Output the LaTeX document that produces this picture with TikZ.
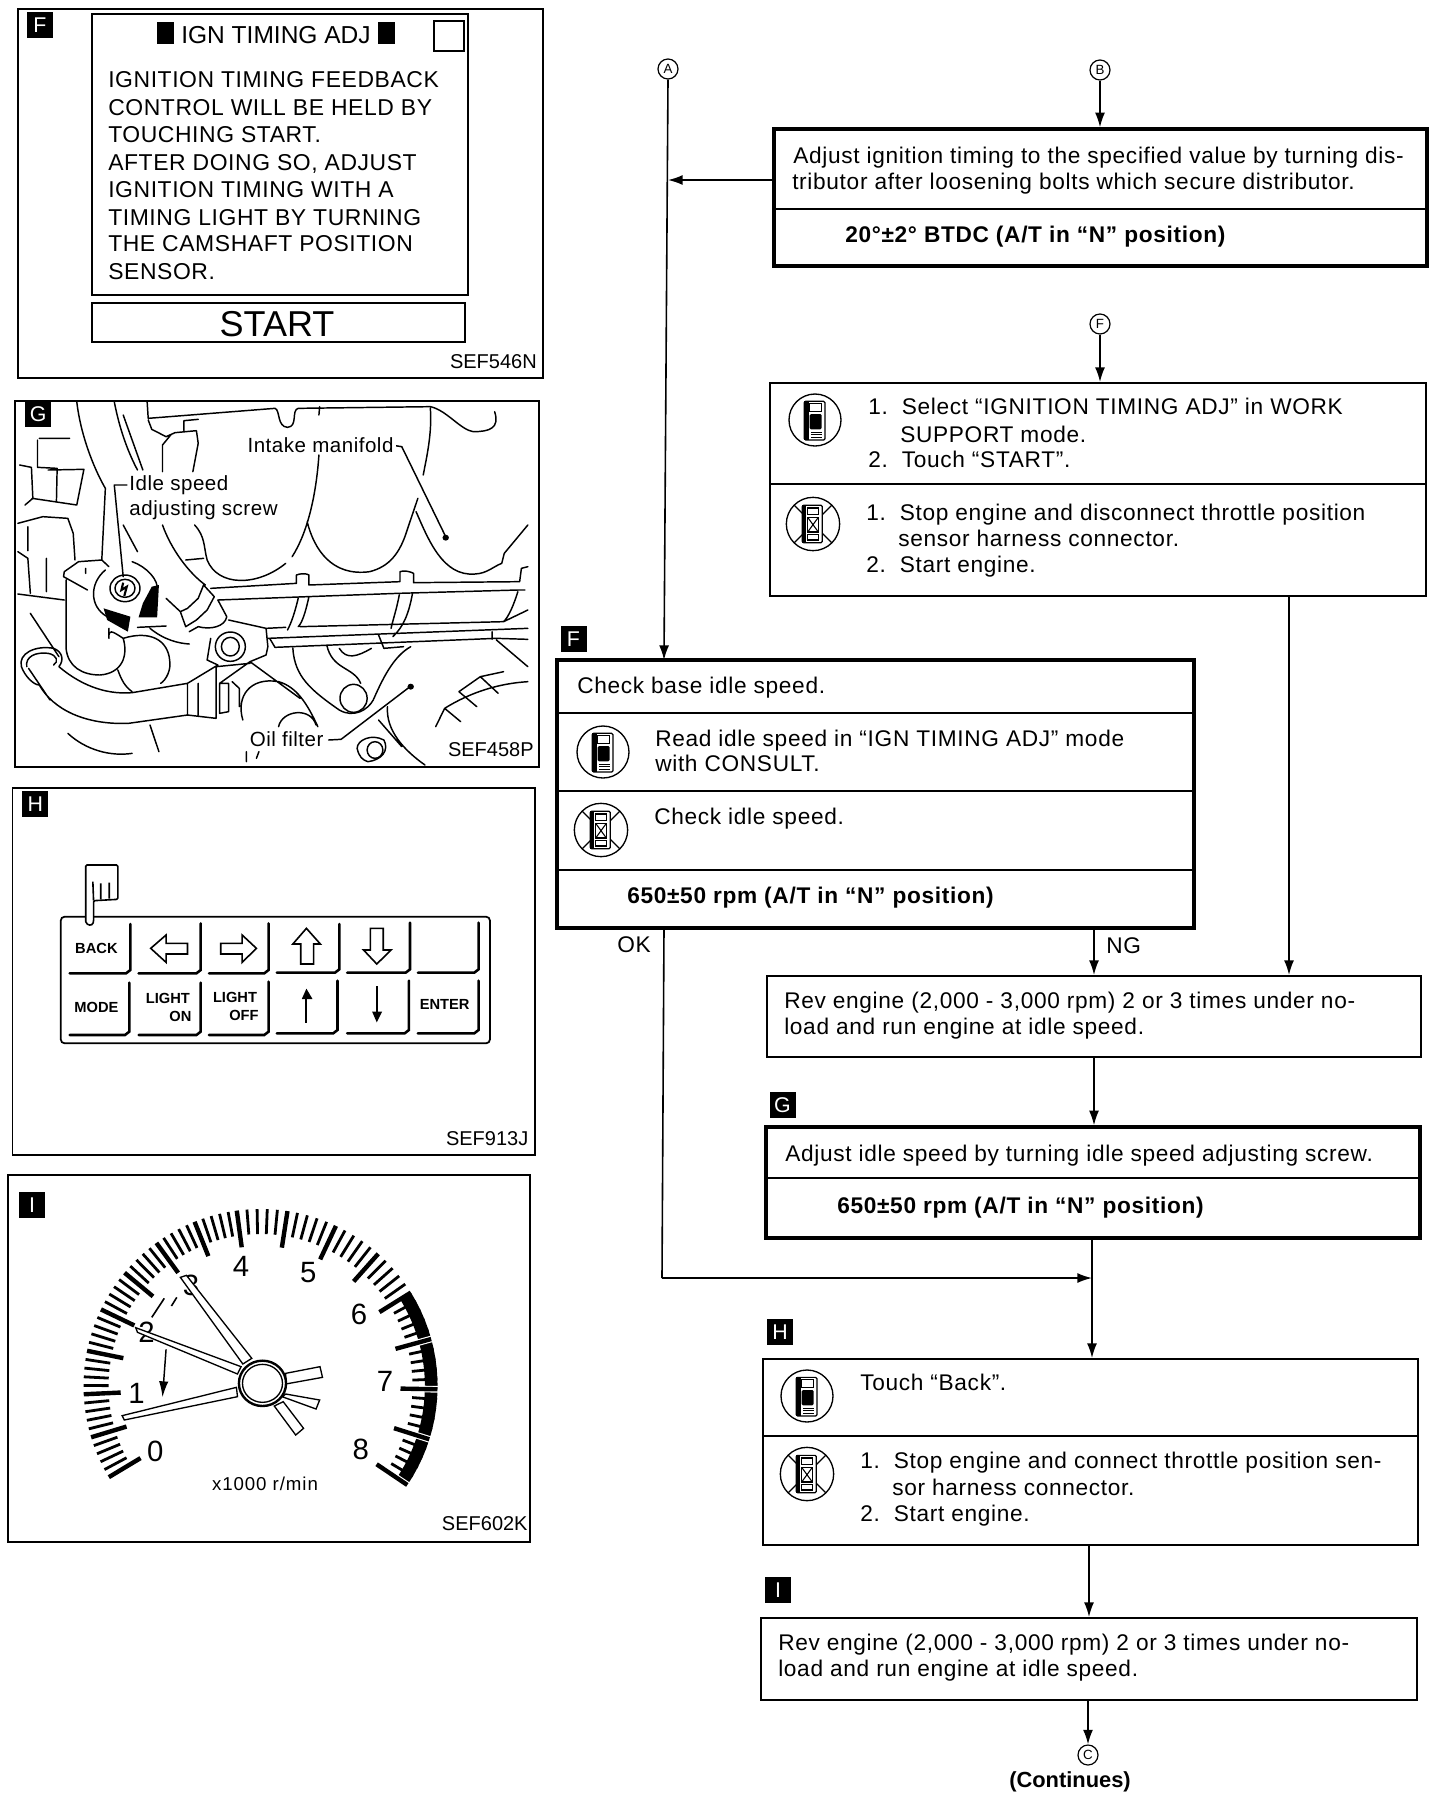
\documentclass[tikz,border=0pt]{standalone}
\usepackage{fontspec}
\setmainfont{Liberation Sans}
\usetikzlibrary{arrows.meta,fit,calc}
\newcommand{\tsz}{\fontsize{17}{20}\selectfont\addfontfeature{LetterSpace=3}}
\newcommand{\psz}{\fontsize{15}{18}\selectfont}
\tikzset{
 flow/.style={draw,line width=1.5pt,inner sep=0pt},
 flowthick/.style={draw,line width=2.6pt,inner sep=0pt},
 panel/.style={draw,line width=1.3pt,inner sep=0pt},
 arr/.style={line width=1.2pt,-{Latex[length=11pt,width=7.5pt]}},
 conn/.style={line width=1.2pt},
 divider/.style={line width=1.3pt},
 txt/.style={anchor=west,inner sep=0pt,font=\tsz,text height=15pt,text depth=3pt},
 btxt/.style={anchor=west,inner sep=0pt,font=\bfseries\tsz,text height=15pt,text depth=3pt},
 ptxt/.style={anchor=west,inner sep=0pt,font=\fontsize{17.2}{18}\selectfont\addfontfeature{LetterSpace=2.5},text height=15pt,text depth=3pt},
 ref/.style={anchor=east,inner sep=0pt,font=\psz},
 blab/.style={fill=black,text=white,inner sep=0pt,minimum width=19.5pt,minimum height=19.5pt,font=\fontsize{16}{18}\selectfont},
 circ/.style={circle,draw,line width=.9pt,inner sep=0pt,minimum size=15pt,font=\fontsize{10}{11}\selectfont},
 ink/.style={line width=1.1pt,line cap=round,line join=round},
 keyt/.style={inner sep=0pt,font=\fontsize{11}{12}\selectfont\bfseries},
 callout/.style={inner sep=0pt,font=\fontsize{15.4}{17}\selectfont\addfontfeature{LetterSpace=2.5}},
 consult/.pic={
   \draw[line width=1pt] (0,0) circle (19.5pt);
   \draw[line width=.9pt,fill=white,rounded corners=1pt] (-8pt,14pt) rectangle (7.5pt,-15pt);
   \fill (-8pt,14pt) rectangle (-4.5pt,-15pt);
   \draw[line width=.9pt] (-4pt,12.5pt) rectangle (5pt,6.5pt);
   \fill[rounded corners=1pt] (-4pt,4.5pt) rectangle (5pt,-7pt);
   \draw[line width=.6pt] (-3pt,-9pt) -- (5pt,-9pt) (-3pt,-11pt) -- (5pt,-11pt) (-3pt,-13pt) -- (5pt,-13pt);
 },
 noconsult/.pic={
   \draw[line width=1pt] (0,0) circle (20pt);
   \draw[line width=.9pt] (-14pt,14pt) -- (14pt,-14pt) (-14pt,-14pt) -- (14pt,14pt);
   \draw[line width=.9pt,fill=white,rounded corners=1pt] (-8pt,14pt) rectangle (7pt,-14pt);
   \fill (-8pt,14pt) rectangle (-5.5pt,-14pt);
   \draw[line width=.8pt] (-4pt,12pt) rectangle (4pt,7pt);
   \draw[line width=.8pt] (-4pt,5pt) rectangle (4pt,-6pt);
   \draw[line width=.8pt] (-4pt,5pt) -- (4pt,-6pt) (-4pt,-6pt) -- (4pt,5pt);
   \draw[line width=.8pt] (-4pt,-8pt) rectangle (4pt,-12pt);
 },
}
\begin{document}
\begin{tikzpicture}[x=.75pt,y=-.75pt]
\useasboundingbox (0,0) rectangle (1440,1800);
\fill[white] (0,0) rectangle (1440,1800);

%%% ---------- Panel F (top left)
\node[panel,fit={(18,9)(543,378)}] (pF) {};
\node[blab] (lF) at (40,25) {F};
\node[panel,fit={(92,14)(468,295)}] (scr) {};
\node[inner sep=0pt,font=\fontsize{18.4}{20}\selectfont] (ttl) at (276,33) {\rule{13pt}{16pt}\ IGN TIMING ADJ\ \rule{13pt}{16pt}};
\node[draw,line width=1.3pt,minimum size=23pt,inner sep=0pt] (sq) at (449,36) {};
\node[ptxt] (f1) at (108,79) {IGNITION TIMING FEEDBACK};
\node[ptxt] (f2) at (108,107) {CONTROL WILL BE HELD BY};
\node[ptxt] (f3) at (108,134) {TOUCHING START.};
\node[ptxt] (f4) at (108,162) {AFTER DOING SO, ADJUST};
\node[ptxt] (f5) at (108,189) {IGNITION TIMING WITH A};
\node[ptxt] (f6) at (108,217) {TIMING LIGHT BY TURNING};
\node[ptxt] (f7) at (108,243) {THE CAMSHAFT POSITION};
\node[ptxt] (f8) at (108,271) {SENSOR.};
\node[panel,fit={(92,303)(465,342)}] (stb) {};
\node[inner sep=0pt,font=\fontsize{27}{30}\selectfont] (stt) at (277,324) {START};
\node[ref] (r1) at (537,362) {SEF546N};

%%% ---------- Panel G (engine drawing) - coordinates of the 2.8/3 crop
\begin{scope}[shift={(0pt,-292.5pt)},x=.26786pt,y=-.25pt]
\node[panel,fit={(42,32)(1510,1130)}] (pG) {};
\node[blab] (lG) at (107,72) {G};
\draw[ink]
 (215,35) .. controls (225,130) and (260,230) .. (295,295) -- (285,510)
 (320,35) .. controls (335,120) and (360,190) .. (385,240)
 (345,75) -- (400,240) (412,35) -- (415,85)
 (415,85) -- (770,55) .. controls (785,60) and (775,110) .. (805,112) .. controls (835,110) and (815,60) .. (835,55) -- (1205,50)
 (1205,50) .. controls (1250,60) and (1290,120) .. (1325,125) .. controls (1370,125) and (1400,115) .. (1385,65)
 (895,50) -- (893,75) (893,195) .. controls (885,320) and (860,430) .. (818,500)
 (1205,55) .. controls (1210,130) and (1195,200) .. (1185,255)
 (415,90) -- (425,118) -- (465,140) -- (490,128) -- (550,122) -- (555,160) -- (540,245)
 (515,122) -- (515,92) -- (555,88)
 (478,135) -- (455,165) -- (455,245)
 (110,145) -- (195,145) (105,150) -- (105,232) -- (160,235) -- (158,335)
 (55,225) -- (88,232) -- (92,325) -- (70,345) (135,240) -- (235,238) -- (215,345) -- (90,325)
 (50,400) -- (120,380) -- (190,385) -- (205,430) -- (210,510)
 (78,410) -- (78,482) (50,485) -- (78,505) -- (85,610) (130,505) -- (130,605)
 (50,612) -- (180,630)
 (345,405) -- (385,485)
 (455,405) .. controls (480,480) and (530,550) .. (575,585)
 (520,510) -- (570,505) (545,405) .. controls (575,440) and (570,470) .. (580,510) .. controls (610,590) and (720,590) .. (800,520)
 (860,395) .. controls (880,480) and (930,560) .. (1035,545) .. controls (1090,530) and (1120,490) .. (1140,420) -- (1170,325)
 (1165,365) .. controls (1200,450) and (1240,560) .. (1330,552) .. controls (1365,550) and (1380,530) .. (1405,520)
 (1405,520) -- (1412,490) -- (1478,405)
 (590,595) -- (830,580) -- (830,555) .. controls (840,550) and (860,550) .. (865,555) -- (865,585) -- (1120,575) -- (1120,545) .. controls (1130,540) and (1150,545) .. (1158,550) -- (1158,578) -- (1455,575) -- (1460,535) -- (1478,530)
 (610,630) -- (860,620) -- (1115,610) -- (1450,600) -- (1470,600)
 (835,625) .. controls (825,670) and (815,700) .. (805,720)
 (865,620) .. controls (855,670) and (845,700) .. (835,710)
 (1118,615) .. controls (1110,660) and (1100,690) .. (1095,715)
 (1155,610) .. controls (1145,670) and (1130,710) .. (1100,740)
 (1450,605) .. controls (1440,640) and (1425,680) .. (1410,695) -- (840,710)
 (745,715) -- (800,712) (640,690) -- (745,715) (745,715) -- (750,770)
 (750,745) -- (1478,715) (770,772) -- (1390,745) -- (1478,748)
 (755,745) -- (770,772) (1060,735) -- (1075,775) -- (1130,770)
 (1390,750) -- (1478,830) (1378,725) -- (1378,748) (1410,695) -- (1478,660)
 (570,585) -- (555,625) -- (525,655) -- (505,665) -- (520,710) -- (550,690) -- (580,660) -- (600,620) -- (570,585)
 (465,625) -- (505,665) (530,725) -- (555,710) .. controls (590,720) and (630,710) .. (635,680) -- (610,630)
 (285,510) -- (220,515) -- (180,545) -- (178,560) -- (245,600)
 (240,535) -- (240,550) (285,510) -- (305,530)
 (185,570) -- (185,775) .. controls (190,830) and (230,855) .. (280,855) .. controls (340,850) and (360,800) .. (345,745)
 (345,745) .. controls (310,720) and (305,720) .. (305,740) (305,715) -- (305,745)
 (345,745) .. controls (420,720) and (470,750) .. (475,810) .. controls (480,840) and (465,870) .. (450,880)
 (330,840) .. controls (340,870) and (350,890) .. (370,905)
 (385,712) -- (465,708) (420,715) .. controls (460,750) and (500,760) .. (530,762)
 (60,830) .. controls (50,790) and (100,765) .. (150,775) .. controls (175,785) and (180,810) .. (165,830) .. controls (220,880) and (290,915) .. (370,908) -- (525,880)
 (75,830) .. controls (70,800) and (100,785) .. (135,790) .. controls (160,795) and (165,815) .. (150,825)
 (85,670) -- (165,800)
 (60,830) .. controls (70,860) and (95,885) .. (110,885) .. controls (150,960) and (240,1005) .. (360,1000) -- (525,975)
 (80,835) -- (140,930)
 (525,880) -- (525,975) -- (605,985) -- (605,830) -- (700,820)
 (525,880) -- (610,825) -- (580,810) -- (590,745)
 (555,880) -- (555,975) (615,880) -- (615,970) -- (640,965) -- (640,880) -- (615,880)
 (615,880) -- (700,815) -- (745,795) -- (750,770) (650,875) -- (670,895) -- (670,950)
 (700,815) -- (840,925)
 (680,990) .. controls (660,920) and (700,860) .. (780,875) .. controls (830,890) and (860,940) .. (890,1010)
 (780,1010) .. controls (790,960) and (870,950) .. (885,1005)
 (820,775) .. controls (825,860) and (870,900) .. (950,960) .. controls (990,985) and (1030,960) .. (1045,930)
 (915,765) .. controls (930,840) and (990,830) .. (1010,880)
 (950,775) .. controls (970,810) and (1000,800) .. (1040,775)
 (1045,930) .. controls (1070,870) and (1100,800) .. (1150,770)
 (1085,950) .. controls (1080,1020) and (1130,1080) .. (1190,1125)
 (1060,990) -- (1125,1070)
 (190,1030) .. controls (240,1080) and (310,1100) .. (370,1090)
 (420,1005) -- (445,1085)
 (690,1085) -- (690,1115) (725,1085) -- (718,1105)
 (1220,1010) -- (1245,955) -- (1290,995) (1245,955) .. controls (1320,905) and (1400,880) .. (1478,875)
 (1285,905) -- (1335,950) (1345,860) -- (1395,910) (1285,905) -- (1345,860) -- (1410,845)
 (1000,1075) .. controls (1000,1050) and (1040,1030) .. (1075,1050) .. controls (1090,1080) and (1070,1110) .. (1030,1115)
 (1000,1075) .. controls (1005,1100) and (1015,1110) .. (1030,1115);
\draw[ink] (990,925) ellipse (38 and 42);
\draw[ink] (1050,1080) ellipse (22 and 25);
\draw[ink] (645,770) ellipse (42 and 44) (645,770) ellipse (25 and 28);
\draw[ink,fill=white] (350,595) ellipse (42 and 40);
\draw[ink] (350,595) ellipse (28 and 27);
\draw[line width=1.6pt] (345,578) -- (340,600) -- (355,590) -- (348,618);
\draw[ink] (295,540) .. controls (250,580) and (250,650) .. (300,680);
\draw[ink] (370,515) .. controls (410,530) and (445,570) .. (440,600);
\fill (400,640) -- (425,590) -- (445,585) -- (440,682) -- (388,682) -- cycle;
\fill (290,655) -- (365,680) -- (358,725) -- (300,690) -- cycle;
% callouts
\draw[ink] (355,285) -- (320,285) -- (345,560);
\draw[ink] (1095,165) -- (1125,170) -- (1248,440);
\fill (1248,443) circle (9);
\draw[ink] (920,1050) -- (955,1048) -- (1148,890);
\fill (1150,890) circle (9);
\node[callout,anchor=west,fill=white,inner xsep=2pt,inner ysep=0pt] (c1) at (685,165) {Intake manifold};
\node[callout,anchor=west,fill=white,inner xsep=1pt,inner ysep=0pt] (c2) at (358,285) {Idle speed};
\node[callout,anchor=west,fill=white,inner xsep=1pt,inner ysep=0pt] (c3) at (358,362) {adjusting screw};
\node[callout,anchor=west,fill=white,inner xsep=1pt,inner ysep=0pt] (c4) at (695,1048) {Oil filter};
\node[ref] (r2) at (1495,1080) {SEF458P};
\end{scope}

%%% ---------- Panel H (keypad)
\begin{scope}[shift={(0pt,-585pt)},x=.26786pt,y=-.25pt]
\node[panel,fit={(35,25)(1498,1125)}] (pH) {};
\node[blab] (lH) at (99,72) {H};
\draw[line width=1.3pt,rounded corners=3pt] (170,410) rectangle (1372,790);
\foreach \l/\r/\t/\b in {195/365/432/580,388/562/430/580,585/752/430/580,775/950/432/578,972/1148/428/578,1170/1340/428/578,
  195/362/608/765,388/562/608/765,585/752/605/765,775/945/602/760,972/1145/602/760,1170/1340/602/760}{
  \draw[line width=1.9pt,line cap=round] (\l,\b) -- ({\r-12},\b) -- (\r,{\b-10}) -- (\r,\t);
}
\node[keyt] (k1) at (270,505) {BACK};
\node[keyt] (k2) at (270,683) {MODE};
\node[keyt] (k3) at (470,655) {LIGHT};
\node[keyt] (k4) at (505,708) {ON};
\node[keyt] (k5) at (658,653) {LIGHT};
\node[keyt] (k6) at (683,705) {OFF};
\node[keyt] (k7) at (1245,672) {ENTER};
\draw[line width=1.2pt,line join=miter] (422,505) -- (465,465) -- (465,490) -- (525,490) -- (525,522) -- (465,522) -- (465,547) -- cycle;
\draw[line width=1.2pt] (718,505) -- (678,465) -- (678,490) -- (618,490) -- (618,522) -- (678,522) -- (678,547) -- cycle;
\draw[line width=1.2pt] (858,445) -- (820,492) -- (842,492) -- (842,552) -- (878,552) -- (878,492) -- (897,492) -- cycle;
\draw[line width=1.2pt] (1055,552) -- (1018,510) -- (1037,510) -- (1037,445) -- (1073,445) -- (1073,510) -- (1095,510) -- cycle;
\draw[line width=1.6pt] (858,650) -- (858,728) (1055,618) -- (1055,700);
\fill (858,626) -- (845,657) -- (875,657) -- cycle;
\fill (1055,727) -- (1042,695) -- (1070,695) -- cycle;
\draw[line width=1.2pt,fill=white,rounded corners=1pt] (240,425) -- (240,255) -- (330,255) -- (330,358) -- (262,362) -- (262,425) .. controls (258,438) and (244,438) .. (240,425);
\draw[line width=1.2pt] (260,305) -- (262,362) (282,310) -- (282,358) (306,308) -- (306,356);
\node[ref] (r3) at (1480,1075) {SEF913J};
\end{scope}

%%% ---------- Panel I (tachometer)
\node[panel,fit={(8,1175)(530,1542)}] (pI) {};
\node[blab] (lI) at (32,1205) {\rule{0pt}{1pt}I};
\begin{scope}[shift={(195.4pt,-1039.5pt)}]
\draw[line width=9.5pt] (31.9:128pt) arc[start angle=31.9,end angle=-34,radius=128pt];
\foreach \i in {0,...,80}{
 \pgfmathsetmacro{\tt}{\i/5}
 \pgfmathsetmacro{\a}{\tt<=8 ? 211-14.16*\tt : 97.7-16.46*(\tt-8)}
 \pgfmathtruncatemacro{\ma}{mod(\i,5)==0 ? 1 : 0}
 \ifnum\ma=1
   \ifnum\i>60
     \draw[white,line width=5pt] (\a:108pt) -- (\a:136pt);
   \fi
   \draw[line width=3.3pt] (\a:105pt) -- (\a:132.75pt);
 \else
   \draw[line width=2.1pt] (\a:114pt) -- (\a:132.75pt);
 \fi
}
\end{scope}
\begin{scope}[shift={(0pt,-877.5pt)},x=.26786pt,y=-.25pt]
\node[inner sep=0pt,font=\fontsize{22}{24}\selectfont] (n0) at (435,843) {0};
\node[inner sep=0pt,font=\fontsize{22}{24}\selectfont] (n1) at (382,670) {1};
\node[inner sep=0pt,font=\fontsize{22}{24}\selectfont] (n2) at (410,487) {2};
\node[inner sep=0pt,font=\fontsize{22}{24}\selectfont] (n3) at (535,345) {3};
\node[inner sep=0pt,font=\fontsize{22}{24}\selectfont] (n4) at (675,288) {4};
\node[inner sep=0pt,font=\fontsize{22}{24}\selectfont] (n5) at (863,308) {5};
\node[inner sep=0pt,font=\fontsize{22}{24}\selectfont] (n6) at (1005,433) {6};
\node[inner sep=0pt,font=\fontsize{22}{24}\selectfont] (n7) at (1078,633) {7};
\node[inner sep=0pt,font=\fontsize{22}{24}\selectfont] (n8) at (1010,838) {8};
\draw[line width=1pt,fill=white] (342,737) -- (348,750) -- (665,680) -- (662,652) -- cycle;
\draw[line width=1pt,fill=white] (380,473) -- (385,487) -- (665,612) -- (675,590) -- cycle;
\draw[line width=1pt,fill=white] (505,322) -- (522,316) -- (705,565) -- (680,582) -- cycle;
\draw[line width=1pt,fill=white] (800,610) -- (896,590) -- (903,622) -- (800,642) -- cycle;
\draw[line width=1pt,fill=white] (800,672) -- (895,690) -- (885,717) -- (790,680) -- cycle;
\draw[line width=1pt,fill=white] (793,695) -- (850,775) -- (828,795) -- (768,708) -- cycle;
\draw[line width=1.2pt] (495,382) -- (480,408) (460,385) -- (425,442);
\draw[line width=1.1pt,-{Latex[length=12pt,width=7pt]}] (465,538) -- (455,682);
\draw[line width=1.8pt,fill=white] (735,640) ellipse (66 and 68);
\draw[line width=1pt] (735,640) ellipse (56 and 57);
\node[inner sep=0pt,font=\fontsize{14}{16}\selectfont\addfontfeature{LetterSpace=5}] (xt) at (742,940) {x1000 r/min};
\node[ref] (r4) at (1478,1062) {SEF602K};
\end{scope}

%%% ---------- Flow: box B
\node[circ] (ca) at (668,69) {A};
\node[circ] (cb) at (1100,70) {B};
\node[flowthick,fit={(774,129)(1427,266)}] (bB) {};
\node[txt] (b1) at (793,155) {Adjust ignition timing to the specified value by turning dis-};
\node[txt] (b2) at (792,181) {tributor after loosening bolts which secure distributor.};
\draw[divider] (bB.west |- 0,209) -- (bB.east |- 0,209);
\node[btxt] (b3) at (845,234) {20°±2° BTDC (A/T in “N” position)};
\coordinate (jA) at (668,180);

%%% Box F-circle
\node[circ] (cf) at (1100,324) {F};
\node[flow,fit={(770,383)(1426,596)}] (bC) {};
\draw[divider] (bC.west |- 0,484) -- (bC.east |- 0,484);
\pic at (815,420) {consult};
\pic at (813,524) {noconsult};
\node[txt] (c1a) at (868,406) {1.\ \ Select “IGNITION TIMING ADJ” in WORK};
\node[txt] (c1b) at (900,434) {SUPPORT mode.};
\node[txt] (c1c) at (868,459) {2.\ \ Touch “START”.};
\node[txt] (c2a) at (866,512) {1.\ \ Stop engine and disconnect throttle position};
\node[txt] (c2b) at (898,538) {sensor harness connector.};
\node[txt] (c2c) at (866,564) {2.\ \ Start engine.};

%%% Box F
\node[blab] (lF2) at (573.5,639) {F};
\node[flowthick,fit={(557,660)(1194,928)}] (bF) {};
\draw[divider] (bF.west |- 0,713) -- (bF.east |- 0,713);
\draw[divider] (bF.west |- 0,791) -- (bF.east |- 0,791);
\draw[divider] (bF.west |- 0,870) -- (bF.east |- 0,870);
\node[txt] (d1) at (577,685) {Check base idle speed.};
\pic at (603,752) {consult};
\pic at (601,830) {noconsult};
\node[txt] (d2) at (655,738) {Read idle speed in “IGN TIMING ADJ” mode};
\node[txt] (d3) at (655,763) {with CONSULT.};
\node[txt] (d4) at (654,816) {Check idle speed.};
\node[btxt] (d5) at (627,895) {650±50 rpm (A/T in “N” position)};
\node[txt] (ok) at (617,944) {OK};
\node[txt] (ng) at (1106,945) {NG};

%%% Rev box 1
\node[flow,fit={(767,976)(1421,1057)}] (bR) {};
\node[txt] (e1) at (784,1000) {Rev engine (2,000 - 3,000 rpm) 2 or 3 times under no-};
\node[txt] (e2) at (784,1026) {load and run engine at idle speed.};

%%% Box G
\node[blab] (lG2) at (782.5,1105) {G};
\node[flowthick,fit={(766,1127)(1420,1238)}] (bG) {};
\draw[divider] (bG.west |- 0,1178) -- (bG.east |- 0,1178);
\node[txt] (g1) at (785,1153) {Adjust idle speed by turning idle speed adjusting screw.};
\node[btxt] (g2) at (837,1205) {650±50 rpm (A/T in “N” position)};

%%% Box H
\node[blab] (lH2) at (780,1332) {H};
\node[flow,fit={(763,1359)(1418,1545)}] (bH) {};
\draw[divider] (bH.west |- 0,1436) -- (bH.east |- 0,1436);
\pic at (807,1396) {consult};
\pic at (807,1474) {noconsult};
\node[txt] (h1) at (860,1382) {Touch “Back”.};
\node[txt] (h2) at (860,1460) {1.\ \ Stop engine and connect throttle position sen-};
\node[txt] (h3) at (892,1487) {sor harness connector.};
\node[txt] (h4) at (860,1513) {2.\ \ Start engine.};

%%% Box I
\node[blab] (lI2) at (778,1590) {\rule{0pt}{1pt}I};
\node[flow,fit={(761,1618)(1417,1700)}] (bI) {};
\node[txt] (i1) at (778,1642) {Rev engine (2,000 - 3,000 rpm) 2 or 3 times under no-};
\node[txt] (i2) at (778,1668) {load and run engine at idle speed.};

\node[circ] (cc) at (1088,1755) {C};
\node[inner sep=0pt,font=\fontsize{16.4}{18}\selectfont\bfseries] (cont) at (1070,1782) {(Continues)};

%%% connectors
\coordinate (fa) at (664,660);
\draw[arr] (ca.south) -- (fa);
\draw[arr] (cb.south) -- (cb.south |- bB.north);
\draw[arr] (bB.west |- jA) -- (jA);
\draw[arr] (cf.south) -- (cf.south |- bC.north);
\coordinate (c2r) at (1289,596);
\draw[arr] (c2r) -- (c2r |- bR.north);
\coordinate (f2r) at (1094,928);
\draw[arr] (f2r) -- (f2r |- bR.north);
\coordinate (r2g) at (1094,1057);
\draw[arr] (r2g) -- (r2g |- bG.north);
\coordinate (okd) at (664,928);
\coordinate (okb) at (662,1278);
\coordinate (g2h) at (1092,1238);
\draw[arr] (g2h) -- (g2h |- bH.north);
\draw[conn] (okd) -- (okb);
\draw[arr] (okb) -- (okb -| g2h);
\coordinate (h2i) at (1089,1545);
\draw[arr] (h2i) -- (h2i |- bI.north);
\coordinate (i2c) at (1088,1700);
\draw[arr] (i2c) -- (cc.north);
\end{tikzpicture}
\end{document}
